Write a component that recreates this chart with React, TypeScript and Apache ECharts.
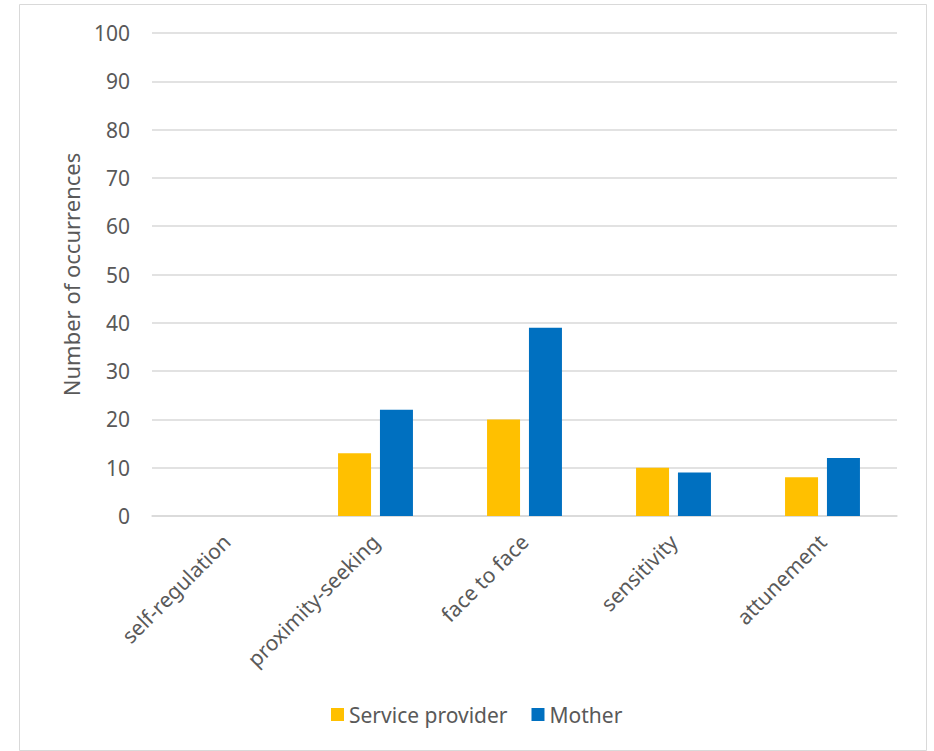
import React, { useEffect, useRef } from "react";
import * as echarts from "echarts";

const categories = ["self-regulation", "proximity-seeking", "face to face", "sensitivity", "attunement"];
const serviceProvider = [0, 13, 20, 10, 8];
const mother = [0, 22, 39, 9, 12];
const seriesNames = ["Service provider", "Mother"];
const yTicks = { min: 0, max: 100, interval: 10 };

const FONT = "'Noto Sans', 'Open Sans', sans-serif";
const TXT = "#595959";

export default function App() {
  const ref = useRef<HTMLDivElement>(null);
  useEffect(() => {
    if (!ref.current) return;
    const chart = echarts.init(ref.current, null, { renderer: "svg" });
    chart.setOption({
      animation: false,
      backgroundColor: "#ffffff",
      textStyle: { fontFamily: FONT, color: TXT },
      graphic: [
        {
          type: "rect",
          shape: { x: 19.5, y: 4.5, width: 907, height: 746 },
          style: { fill: "none", stroke: "#d9d9d9", lineWidth: 1 },
          silent: true,
        },
      ],
      grid: { left: 152, right: 37, top: 33, bottom: 235 },
      legend: {
        data: seriesNames,
        left: 326,
        top: 699,
        itemWidth: 13,
        itemHeight: 13,
        itemGap: 24,
        icon: "rect",
        textStyle: { fontFamily: FONT, fontSize: 21, color: TXT },
      },
      xAxis: {
        type: "category",
        data: categories,
        axisLine: { lineStyle: { color: "#d9d9d9", width: 1.5 } },
        axisTick: { show: false },
        axisLabel: {
          rotate: 45,
          margin: 22,
          fontFamily: FONT,
          fontSize: 21,
          color: TXT,
          interval: 0,
        },
      },
      yAxis: {
        type: "value",
        min: yTicks.min,
        max: yTicks.max,
        interval: yTicks.interval,
        name: "Number of occurrences",
        nameLocation: "middle",
        nameGap: 70,
        nameTextStyle: { fontFamily: FONT, fontSize: 22, color: TXT },
        axisLine: { show: false },
        axisTick: { show: false },
        axisLabel: { margin: 22, fontFamily: FONT, fontSize: 21, color: TXT },
        splitLine: { lineStyle: { color: "#d9d9d9", width: 1.5 } },
      },
      series: [
        {
          name: seriesNames[0],
          type: "bar",
          data: serviceProvider,
          barWidth: 33,
          barGap: "27%",
          itemStyle: { color: "#FFC000" },
        },
        {
          name: seriesNames[1],
          type: "bar",
          data: mother,
          barWidth: 33,
          barGap: "27%",
          itemStyle: { color: "#0070C0" },
        },
      ],
    });
    return () => chart.dispose();
  }, []);
  return (
    <div
      ref={ref}
      style={{ position: "fixed", left: 0, top: 0, width: 934, height: 751 }}
    />
  );
}
